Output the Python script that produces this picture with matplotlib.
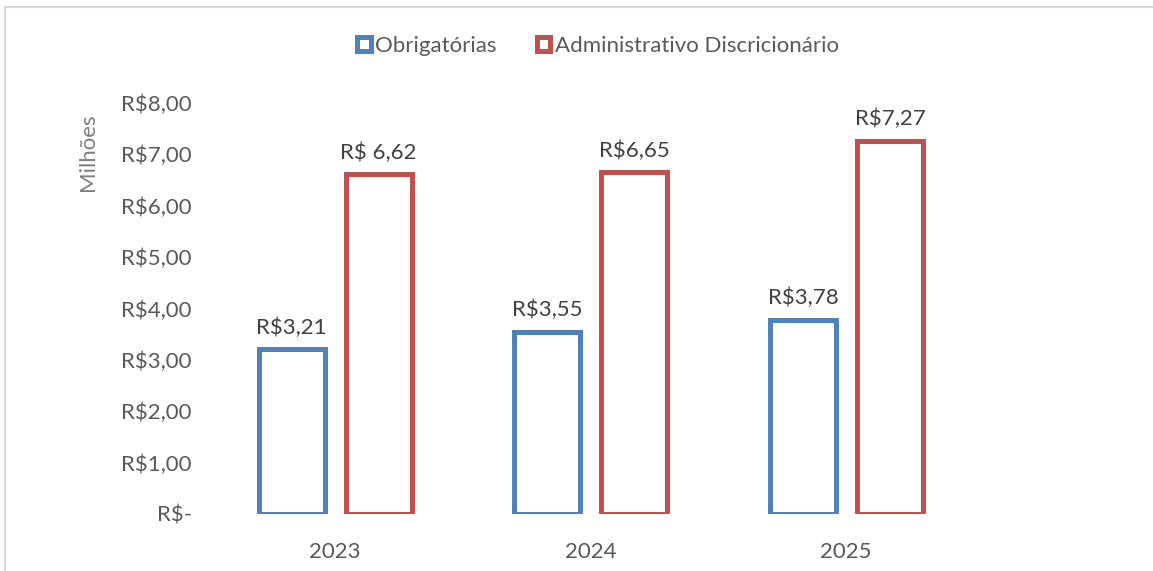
import matplotlib.pyplot as plt
from matplotlib.patches import Rectangle
import numpy as np

anos = ['2023', '2024', '2025']
obrigatorias = [3.21, 3.55, 3.78]
discricionario = [6.62, 6.65, 7.27]
rot_obrig = ['R$3,21', 'R$3,55', 'R$3,78']
rot_disc = ['R$ 6,62', 'R$6,65', 'R$7,27']
yticks = [0, 1, 2, 3, 4, 5, 6, 7, 8]
ylabels = ['R$-', 'R$1,00', 'R$2,00', 'R$3,00', 'R$4,00', 'R$5,00', 'R$6,00', 'R$7,00', 'R$8,00']

plt.rcParams['font.family'] = ['Lato', 'DejaVu Sans']
cinza = '#595959'
azul = '#4F81BD'
vermelho = '#C0504D'
fs = 16

W, H = 1153, 571
fig = plt.figure(figsize=(W / 100, H / 100), dpi=100)
# axes placed in pixel terms: x 207..974, y=0 at 514, y=8 at 103
ax = fig.add_axes([207 / W, 1 - 514 / H, (974 - 207) / W, (514 - 103) / H])

x = np.arange(len(anos))
w = 0.258
ax.bar(x - 0.169, obrigatorias, w, facecolor='white', edgecolor=azul, linewidth=3.6, label='Obrigatórias')
ax.bar(x + 0.171, discricionario, w, facecolor='white', edgecolor=vermelho, linewidth=3.6,
       label='Administrativo Discricionário')

for i in range(len(anos)):
    ax.text(x[i] - 0.169, obrigatorias[i] + 0.22, rot_obrig[i], ha='center', va='bottom',
            fontsize=fs, color='#404040')
    ax.text(x[i] + 0.171, discricionario[i] + 0.22, rot_disc[i], ha='center', va='bottom',
            fontsize=fs, color='#404040')

ax.set_xlim(-0.5, 2.5)
ax.set_ylim(0, 8)
ax.set_xticks(x)
ax.set_xticklabels(anos)
ax.set_yticks(yticks)
ax.set_yticklabels(ylabels)
ax.tick_params(length=0, labelsize=fs, colors=cinza)
ax.tick_params(axis='x', pad=20)
ax.tick_params(axis='y', pad=11)
for s in ax.spines.values():
    s.set_visible(False)

fig.text(88 / W, 1 - 152 / H, 'Milhões', rotation=90, ha='center', va='center', fontsize=fs, color='#7f7f7f')

h1 = Rectangle((0, 0), 1, 1, facecolor='white', edgecolor=azul, linewidth=3.6)
h2 = Rectangle((0, 0), 1, 1, facecolor='white', edgecolor=vermelho, linewidth=3.6)
fig.legend([h1, h2], ['Obrigatórias', 'Administrativo Discricionário'], loc='center',
           bbox_to_anchor=(598 / W, 1 - 46 / H), ncol=2, frameon=False, fontsize=fs,
           handlelength=0.6, handleheight=0.6, handletextpad=0.2, columnspacing=1.8,
           labelcolor=cinza)

fig.patches.append(Rectangle((5 / W, -0.05), 1.2, 1 - 7 / H + 0.05, transform=fig.transFigure,
                             fill=False, edgecolor='#d9d9d9', linewidth=1.5))

fig.savefig('out.png', dpi=100)
